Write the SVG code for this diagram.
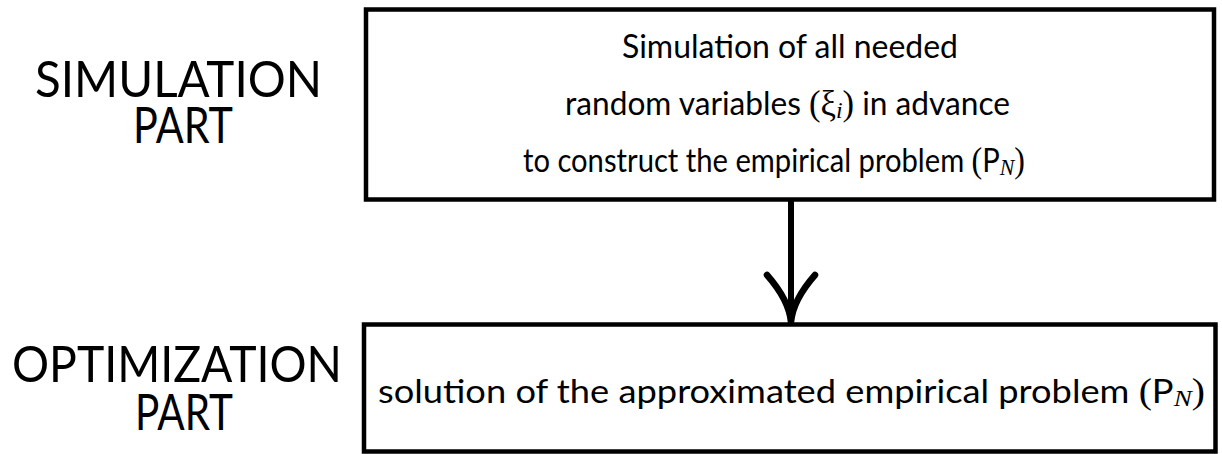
<svg xmlns="http://www.w3.org/2000/svg" width="1222" height="454" viewBox="0 0 1222 454">
  <style>
    .box { fill: #fff; stroke: #000; stroke-width: 4.5; }
    .label { font-family: Lato, "Open Sans", sans-serif; font-size: 50px; fill: #000; text-anchor: middle; }
    .body { font-family: Lato, "Open Sans", sans-serif; font-size: 32px; fill: #000; text-anchor: middle; }
    .math { font-family: "Liberation Serif", "DejaVu Serif", serif; font-size: 35px; }
    .sub { font-family: "Liberation Serif", "DejaVu Serif", serif; font-style: italic; font-size: 24px; }
    .edge { fill: none; stroke: #000; stroke-width: 6; }
  </style>
  <defs>
    <!-- open arrowhead with curved arms, tip at the origin -->
    <marker id="arrowOpen" markerUnits="userSpaceOnUse" viewBox="-55 -30 60 60" refX="0" refY="0" markerWidth="60" markerHeight="60" orient="auto" overflow="visible">
      <path d="M-47,24 Q-22,2 0,0 M-47,-24 Q-22,-2 0,0" fill="none" stroke="#000" stroke-width="6.5" stroke-linecap="round" stroke-linejoin="round"/>
    </marker>
  </defs>

  <rect width="1222" height="454" fill="#fff"/>

  <!-- side labels -->
  <g id="label-simulation">
    <text class="label" x="178.5" y="97" textLength="287" lengthAdjust="spacingAndGlyphs">SIMULATION</text>
    <text class="label" x="183" y="143" textLength="100" lengthAdjust="spacingAndGlyphs">PART</text>
  </g>
  <g id="label-optimization">
    <text class="label" x="177" y="382" textLength="330" lengthAdjust="spacingAndGlyphs">OPTIMIZATION</text>
    <text class="label" x="184" y="430" textLength="98" lengthAdjust="spacingAndGlyphs">PART</text>
  </g>

  <!-- simulation step -->
  <g id="node-simulation">
    <rect class="box" x="366" y="9.5" width="848" height="190"/>
    <text class="body" x="790" y="58" textLength="336" lengthAdjust="spacingAndGlyphs">Simulation of all needed</text>
    <text class="body" x="787.5" y="115" textLength="445" lengthAdjust="spacingAndGlyphs">random variables <tspan class="math">(ξ</tspan><tspan class="sub" baseline-shift="-3">i</tspan><tspan class="math">)</tspan> in advance</text>
    <text class="body" x="774" y="172" textLength="502" lengthAdjust="spacingAndGlyphs">to construct the empirical problem <tspan class="math">(</tspan>P<tspan class="sub" baseline-shift="-3">N</tspan><tspan class="math">)</tspan></text>
  </g>

  <!-- optimization step -->
  <g id="node-optimization">
    <rect class="box" x="364" y="324.5" width="851.5" height="127"/>
    <text class="body" x="791.5" y="403" font-size="34" textLength="827" lengthAdjust="spacingAndGlyphs">solution of the approximated empirical problem <tspan class="math">(</tspan>P<tspan class="sub" baseline-shift="-3">N</tspan><tspan class="math">)</tspan></text>
  </g>

  <!-- connectors -->
  <g id="connectors">
    <line class="edge" x1="791" y1="201" x2="791" y2="322" marker-end="url(#arrowOpen)"/>
  </g>
</svg>
